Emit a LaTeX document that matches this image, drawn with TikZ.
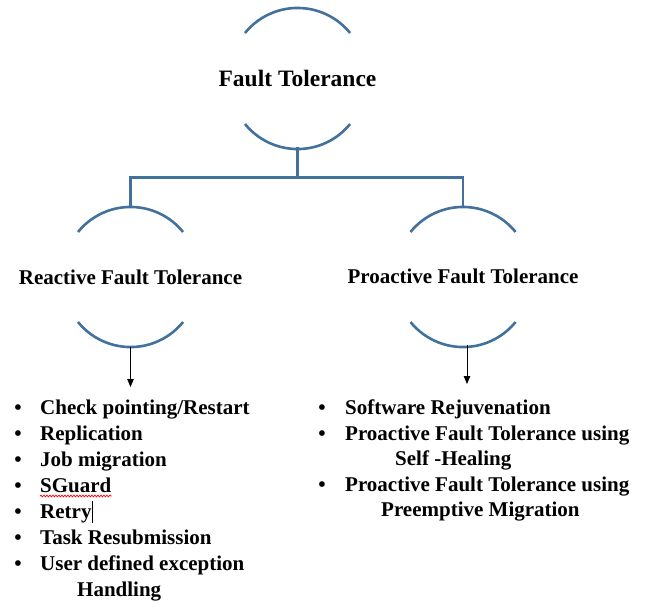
\documentclass[tikz,border=0pt]{standalone}
\usepackage{fontspec}
\setmainfont{Liberation Serif}
\usetikzlibrary{calc,arrows.meta,decorations.pathmorphing}
\definecolor{arcblue}{RGB}{65,113,156}
\begin{document}
\begin{tikzpicture}[x=1pt,y=-1pt,
  arcline/.style={draw=arcblue,line width=2.6pt},
  conn/.style={draw=arcblue,line width=2.4pt},
  head/.style={font=\bfseries\fontsize{21}{25}\selectfont,inner sep=0pt,anchor=base},
  item/.style={font=\bfseries\fontsize{21}{25}\selectfont,inner sep=0pt,anchor=base west},
  bul/.style={font=\bfseries\fontsize{21}{25}\selectfont,inner sep=0pt,anchor=base},
  arr/.style={draw=black,line width=0.9pt,-{Triangle[length=8pt,width=6.5pt]}}]
\useasboundingbox (0,0) rectangle (648,603);
% top node
\node[head,font=\bfseries\fontsize{23.5}{27}\selectfont] (ft) at (297.5,86) {Fault Tolerance};
\draw[arcline] (245,33) arc[start angle=219,end angle=321,radius=67.6];
\draw[arcline] (245,124) arc[start angle=141,end angle=39,radius=67.6];
\coordinate (ftbot) at (297.5,147);
% left node
\node[head] (rft) at (130.5,284) {Reactive Fault Tolerance};
\draw[arcline] (78,232) arc[start angle=219,end angle=321,radius=67.6];
\draw[arcline] (78,322) arc[start angle=141,end angle=39,radius=67.6];
\coordinate (rtop) at (130.5,207);
\coordinate (rbot) at (130.5,347);
% right node
\node[head] (pft) at (463,283) {Proactive Fault Tolerance};
\draw[arcline] (410.5,232) arc[start angle=219,end angle=321,radius=67.6];
\draw[arcline] (410.5,322) arc[start angle=141,end angle=39,radius=67.6];
\coordinate (ptop) at (463,207);
\coordinate (pbot) at (467,345);
% connectors
\coordinate (j) at (297.5,177.5);
\draw[conn] (ftbot) -- (j) -| (rtop);
\draw[conn] (j) -| (ptop);
% arrows
\coordinate (larr) at (130.5,387);
\coordinate (rarr) at (467,384);
\draw[arr] (rbot) -- (larr);
\draw[arr] (pbot) -- (rarr);
% left list
\foreach \y in {414,440,466,492,518,544,570} \node[bul] at (18,\y) {•};
\node[item] (l1) at (40,414) {Check pointing/Restart};
\node[item] (l2) at (40,440) {Replication};
\node[item] (l3) at (40,466) {Job migration};
\node[item] (l4) at (40,492) {SGuard};
\node[item] (l5) at (40,518) {Retry};
\node[item] (l6) at (40,544) {Task Resubmission};
\node[item] (l7) at (40,570) {User defined exception};
\node[item] (l8) at (77,596) {Handling};
\draw[red,line width=0.7pt,decorate,decoration={snake,amplitude=0.9pt,segment length=3pt}]
  ($(l4.base west)+(0,4)$) -- ($(l4.base east)+(0,4)$);
\draw[black,line width=0.6pt] ($(l5.base east)+(1,5)$) -- ($(l5.base east)+(1,-17)$);
% right list
\foreach \y in {414,440,491} \node[bul] at (322,\y) {•};
\node[item] (r1) at (345,414) {Software Rejuvenation};
\node[item] (r2) at (345,440) {Proactive Fault Tolerance using};
\node[item] (r3) at (395,465) {Self -Healing};
\node[item] (r4) at (345,491) {Proactive Fault Tolerance using};
\node[item] (r5) at (381,516) {Preemptive Migration};
\end{tikzpicture}
\end{document}
